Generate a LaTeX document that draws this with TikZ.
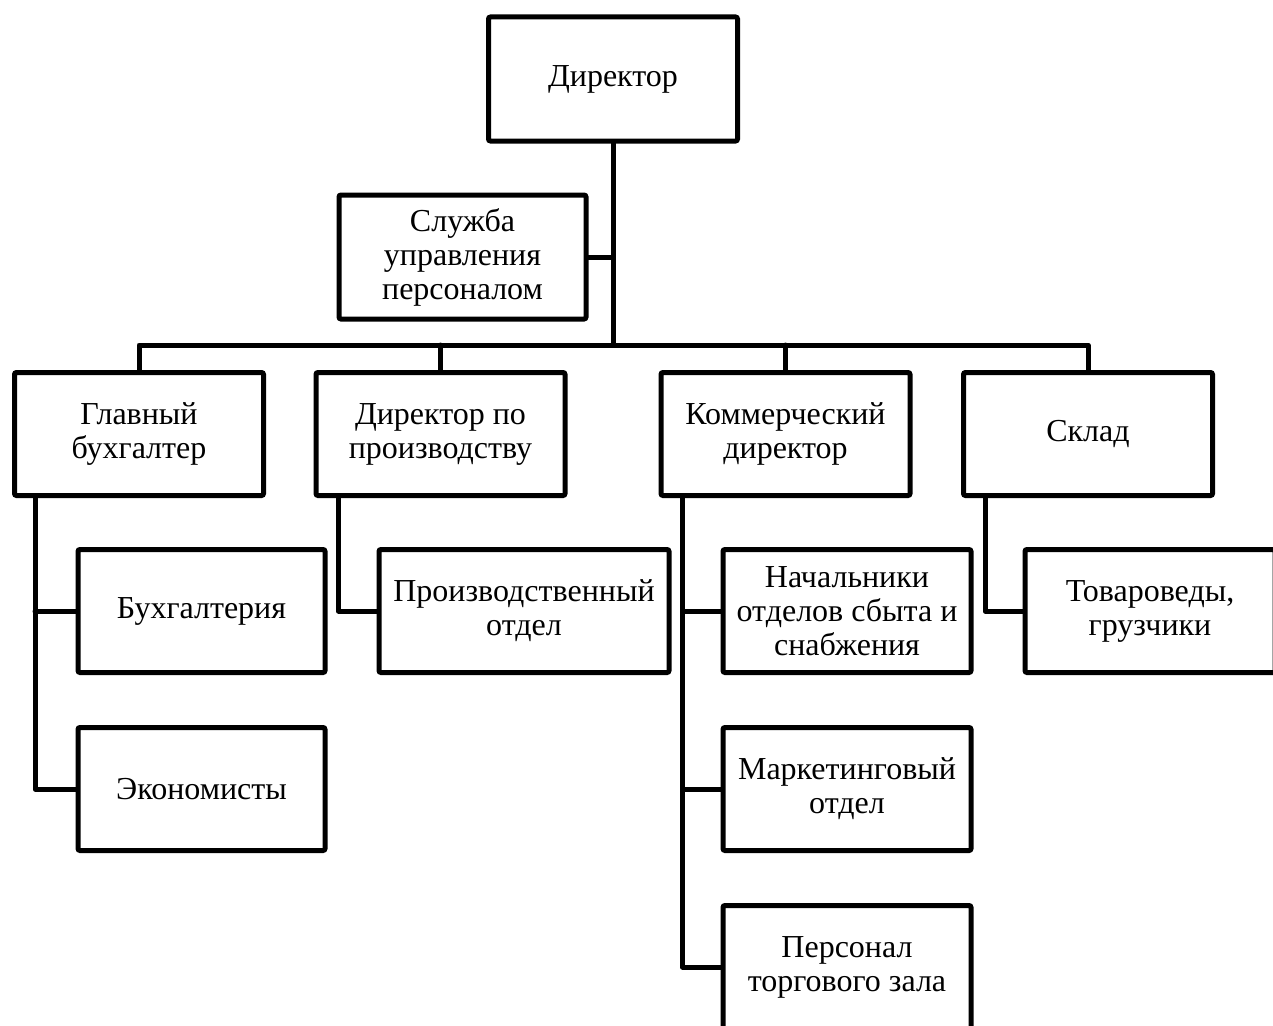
\documentclass[tikz,border=0pt]{standalone}
\usepackage{fontspec}
\setmainfont{Liberation Serif}
\usetikzlibrary{calc}
\tikzset{
  orgbox/.style={draw=black, line width=5pt, rounded corners=2pt, fill=white,
    minimum width=249pt, minimum height=123pt, align=center, inner sep=2pt,
    font=\fontsize{32}{34}\selectfont},
  link/.style={draw=black, line width=5pt, line join=round, line cap=round}
}
\begin{document}
\begin{tikzpicture}[x=1pt,y=-1pt]
\useasboundingbox (0,0) rectangle (1273,1025);
\fill[white] (0,0) rectangle (1273,1025);
% nodes
\node[orgbox, minimum height=124pt] (dir) at (613,79) {Директор};
\node[orgbox, minimum width=247pt, minimum height=124pt] (sl) at (462.5,257) {Служба\\управления\\персоналом};
\node[orgbox] (gb) at (139,434) {Главный\\бухгалтер};
\node[orgbox] (dp) at (440.5,434) {Директор по\\производству};
\node[orgbox] (kd) at (785.5,434) {Коммерческий\\директор};
\node[orgbox] (sk) at (1088,434) {Склад};
\node[orgbox, minimum width=247pt] (bu) at (201.5,611) {Бухгалтерия};
\node[orgbox, minimum width=247pt] (ek) at (201.5,789) {Экономисты};
\node[orgbox, minimum width=290pt] (po) at (524,611) {Производственный\\отдел};
\node[orgbox, minimum width=248pt] (na) at (847,611) {Начальники\\отделов сбыта и\\снабжения};
\node[orgbox, minimum width=248pt] (ma) at (847,789) {Маркетинговый\\отдел};
\node[orgbox, minimum width=248pt] (pe) at (847,967) {Персонал\\торгового зала};
\node[orgbox, minimum width=250pt] (to) at (1150,611) {Товароведы,\\грузчики};
% bus level
\coordinate (bus) at (0,345);
\draw[link] (dir.south) -- (dir.south |- bus);
\draw[link] (sl.east) -- (sl.east -| dir.south);
\draw[link] (gb.north) -- (gb.north |- bus) -- (sk.north |- bus) -- (sk.north);
\draw[link] (dp.north) -- (dp.north |- bus);
\draw[link] (kd.north) -- (kd.north |- bus);
% branches
\coordinate (gbs) at ($(gb.south west)+(23,0)$);
\draw[link] (gbs) |- (ek.west);
\draw[link] (gbs |- bu.west) -- (bu.west);
\coordinate (dps) at ($(dp.south west)+(25,0)$);
\draw[link] (dps) |- (po.west);
\coordinate (kds) at ($(kd.south west)+(24,0)$);
\draw[link] (kds) |- (pe.west);
\draw[link] (kds |- na.west) -- (na.west);
\draw[link] (kds |- ma.west) -- (ma.west);
\coordinate (sks) at ($(sk.south west)+(24,0)$);
\draw[link] (sks) |- (to.west);
\end{tikzpicture}
\end{document}
